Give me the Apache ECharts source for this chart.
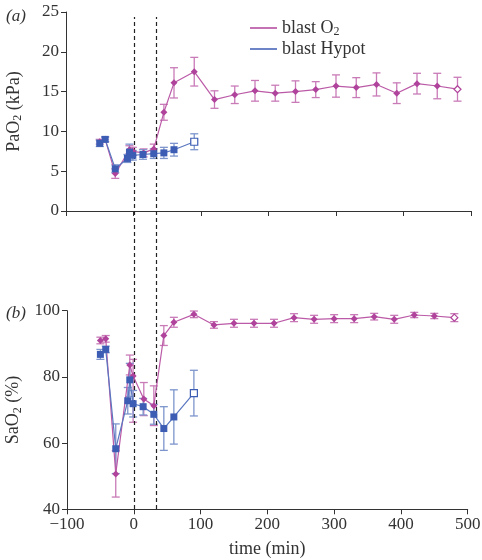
<!DOCTYPE html>
<html><head><meta charset="utf-8">
<script src="https://cdn.jsdelivr.net/npm/echarts@6/dist/echarts.min.js"></script>
<style>html,body{margin:0;padding:0;background:#fff}#c{width:482px;height:560px}</style>
</head><body><div id="c"></div>
<script>
// ---- data ----
const o2Times = [-50, -42, -27, -6, -1, 15, 30, 45, 60, 90, 120, 150, 180, 210, 240, 270, 300, 330, 360, 390, 420, 450, 480];
const o2PaO2 = [8.7, 9.0, 4.7, 7.7, 7.5, 7.3, 7.8, 12.4, 16.1, 17.5, 14.0, 14.6, 15.1, 14.8, 15.0, 15.25, 15.7, 15.5, 15.9, 14.8, 16.0, 15.7, 15.3];
const o2PaO2Err = [0.3, 0.3, 0.6, 0.5, 0.5, 0.5, 0.6, 1.0, 1.9, 1.8, 1.1, 1.1, 1.3, 1.0, 1.35, 1.0, 1.4, 1.25, 1.45, 1.3, 1.3, 1.6, 1.5];
const o2SaO2 = [91.0, 91.5, 50.7, 83.6, 80.3, 73.3, 71.3, 92.5, 96.5, 98.9, 95.7, 96.2, 96.2, 96.2, 97.9, 97.4, 97.6, 97.6, 98.2, 97.4, 98.7, 98.4, 97.9];
const o2SaO2ErrHi = [1.0, 1.0, 7.0, 3.0, 5.0, 5.0, 6.0, 3.0, 1.5, 1.0, 1.0, 1.2, 1.2, 1.2, 1.2, 1.2, 1.2, 1.2, 1.0, 1.2, 0.8, 0.8, 1.2];
const o2SaO2ErrLo = [1.0, 1.0, 7.0, 3.0, 14.0, 5.0, 6.0, 3.0, 1.5, 1.0, 1.0, 1.2, 1.2, 1.2, 1.2, 1.2, 1.2, 1.2, 1.0, 1.2, 0.8, 0.8, 1.2];

const hyTimes = [-50, -42, -27, -9, -6, -1, 14, 30, 45, 60, 90];
const hyPaO2 = [8.5, 9.0, 5.3, 6.6, 7.4, 7.0, 7.1, 7.2, 7.3, 7.7, 8.7];
const hyPaO2Err = [0.4, 0.3, 0.5, 0.5, 1.0, 0.6, 0.6, 0.6, 0.7, 0.8, 1.0];
const hySaO2 = [86.8, 88.3, 58.3, 72.8, 79.1, 71.9, 71.0, 68.7, 64.4, 67.9, 75.1];
const hySaO2Err = [1.5, 1.0, 7.5, 4.0, 5.0, 4.0, 2.5, 3.0, 6.6, 8.2, 6.9];

const markerTimes = [0, 33];
const xTicks = [-100, 0, 100, 200, 300, 400, 500];

// ---- styles ----
const FONT = 'Liberation Serif';
const MAG = '#b0439b', MAG_L = '#c97bb8', MAG_LINE = '#bb5aa7';
const BLU = '#3d5db4', BLU_L = '#7d95cc', BLU_LINE = '#5a77c0';
const AX = '#333';

function pts(t, v, color, openLast) {
  return t.map((x, i) => {
    const d = { value: [x, v[i]] };
    if (openLast && i === t.length - 1) d.itemStyle = { color: '#fff', borderColor: color, borderWidth: 1.2 };
    return d;
  });
}
function errData(t, v, hi, lo) {
  return t.map((x, i) => [x, v[i] - lo[i], v[i] + hi[i]]);
}
function errSeries(name, data, color, xi, yi, z) {
  return {
    type: 'custom', name: name, xAxisIndex: xi, yAxisIndex: yi, z: z, silent: true,
    data: data,
    encode: { x: 0, y: [1, 2] },
    renderItem: function (params, api) {
      const x = api.value(0);
      const a = api.coord([x, api.value(1)]);
      const b = api.coord([x, api.value(2)]);
      const w = 4;
      const st = { stroke: color, lineWidth: 1.3, fill: null };
      return {
        type: 'group', children: [
          { type: 'line', shape: { x1: a[0], y1: a[1], x2: b[0], y2: b[1] }, style: st },
          { type: 'line', shape: { x1: a[0] - w, y1: a[1], x2: a[0] + w, y2: a[1] }, style: st },
          { type: 'line', shape: { x1: b[0] - w, y1: b[1], x2: b[0] + w, y2: b[1] }, style: st }
        ]
      };
    }
  };
}
function lineSeries(name, data, color, lineColor, symbol, size, xi, yi) {
  return {
    type: 'line', name: name, xAxisIndex: xi, yAxisIndex: yi, z: 5,
    data: data, symbol: symbol, symbolSize: size, showSymbol: true,
    lineStyle: { color: lineColor, width: 1.2 },
    itemStyle: { color: color },
    animation: false
  };
}

const tickLabel = { color: AX, fontFamily: FONT, fontSize: 17 };
const axisLine = { show: true, onZero: false, lineStyle: { color: AX, width: 1 } };
const axisTick = { show: true, length: 5, lineStyle: { color: AX } };
const subRich = {
  base: { fontFamily: FONT, fontSize: 18, color: AX },
  sub: { fontFamily: FONT, fontSize: 12, color: AX, padding: [8, 0, 0, 0] }
};

const chart = echarts.init(document.getElementById('c'), null, { renderer: 'canvas' });
chart.setOption({
  animation: false,
  backgroundColor: '#fff',
  title: [
    { text: '(a)', left: 1, top: 3, textStyle: { fontFamily: FONT, fontStyle: 'italic', fontWeight: 'normal', fontSize: 17, color: AX } },
    { text: '(b)', left: 1, top: 300, textStyle: { fontFamily: FONT, fontStyle: 'italic', fontWeight: 'normal', fontSize: 17, color: AX } }
  ],
  legend: {
    orient: 'vertical', left: 245, top: 14, itemWidth: 27, itemHeight: 1.5, itemGap: 2, icon: 'rect',
    data: ['blast O2', 'blast Hypot'],
    formatter: function (n) { return n === 'blast O2' ? '{base|blast O}{sub|2}' : '{base|' + n + '}'; },
    textStyle: { fontFamily: FONT, fontSize: 18, color: AX, rich: subRich }
  },
  grid: [
    { left: 66, right: 11, top: 12, height: 199, containLabel: false, outerBoundsMode: 'none' },
    { left: 67, right: 14.3, top: 310.7, height: 198.6, containLabel: false, outerBoundsMode: 'none' },
    { left: 67, right: 14.3, top: 17, height: 492, containLabel: false, outerBoundsMode: 'none' }
  ],
  xAxis: [
    { type: 'value', gridIndex: 0, min: -100, max: 500, interval: 100, axisLine: axisLine, axisTick: axisTick, axisLabel: { show: false }, splitLine: { show: false } },
    { type: 'value', gridIndex: 1, min: -100, max: 500, interval: 100, axisLine: axisLine, axisTick: axisTick,
      axisLabel: Object.assign({ margin: 7, formatter: v => (v < 0 ? '\u2212' + Math.abs(v) : '' + v) }, tickLabel), splitLine: { show: false },
      name: 'time (min)', nameLocation: 'middle', nameGap: 31, nameTextStyle: { fontFamily: FONT, fontSize: 18, color: AX } },
    { type: 'value', gridIndex: 2, min: -100, max: 500, show: false }
  ],
  yAxis: [
    { type: 'value', gridIndex: 0, min: 0, max: 25, interval: 5, axisLine: axisLine, axisTick: axisTick, axisLabel: Object.assign({ margin: 7 }, tickLabel), splitLine: { show: false },
      name: '{base|PaO}{sub|2}{base| (kPa)}', nameLocation: 'middle', nameGap: 42, nameTextStyle: { rich: subRich } },
    { type: 'value', gridIndex: 1, min: 40, max: 100, interval: 20, axisLine: axisLine, axisTick: axisTick, axisLabel: Object.assign({ margin: 7 }, tickLabel), splitLine: { show: false },
      name: '{base|SaO}{sub|2}{base| (%)}', nameLocation: 'middle', nameGap: 42, nameTextStyle: { rich: subRich } },
    { type: 'value', gridIndex: 2, min: 0, max: 1, show: false }
  ],
  series: [
    {
      type: 'line', name: 'markers', xAxisIndex: 2, yAxisIndex: 2, symbol: 'none', silent: true, z: 1,
      data: [], lineStyle: { opacity: 0 },
      markLine: {
        symbol: 'none', silent: true, label: { show: false },
        lineStyle: { type: [4, 3], color: '#222', width: 1.2 },
        data: markerTimes.map(t => ({ xAxis: t }))
      }
    },
    errSeries('eb1', errData(o2Times, o2PaO2, o2PaO2Err, o2PaO2Err), MAG_L, 0, 0, 3),
    errSeries('eb2', errData(hyTimes, hyPaO2, hyPaO2Err, hyPaO2Err), BLU_L, 0, 0, 3),
    errSeries('eb3', errData(o2Times, o2SaO2, o2SaO2ErrHi, o2SaO2ErrLo), MAG_L, 1, 1, 3),
    errSeries('eb4', errData(hyTimes, hySaO2, hySaO2Err, hySaO2Err), BLU_L, 1, 1, 3),
    lineSeries('blast O2', pts(o2Times, o2PaO2, MAG, true), MAG, MAG_LINE, 'diamond', 7, 0, 0),
    lineSeries('blast Hypot', pts(hyTimes, hyPaO2, BLU, true), BLU, BLU_LINE, 'rect', 7, 0, 0),
    lineSeries('blast O2', pts(o2Times, o2SaO2, MAG, true), MAG, MAG_LINE, 'diamond', 7, 1, 1),
    lineSeries('blast Hypot', pts(hyTimes, hySaO2, BLU, true), BLU, BLU_LINE, 'rect', 7, 1, 1)
  ]
});
</script></body></html>
